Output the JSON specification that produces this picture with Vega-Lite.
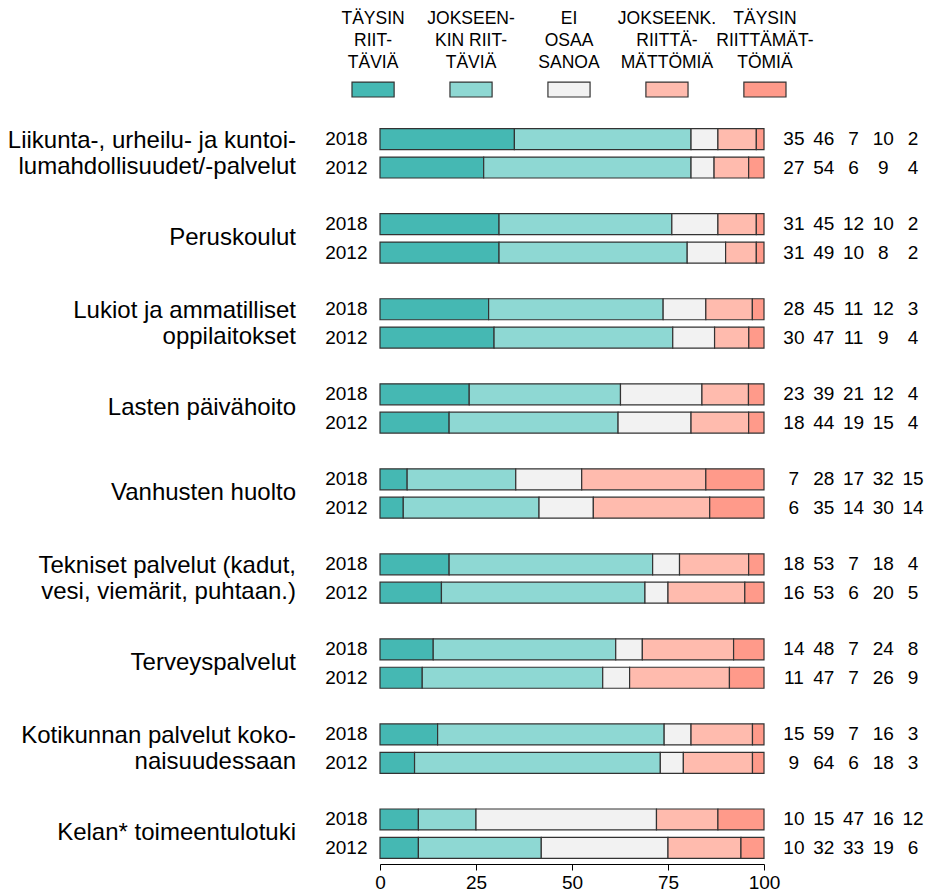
{
  "$schema": "https://vega.github.io/schema/vega-lite/v6.json",
  "padding": {"left": 0, "top": 10, "right": 0, "bottom": 4},
  "background": "white",
  "config": {
    "view": {"stroke": null},
    "font": "Liberation Sans",
    "text": {"font": "Liberation Sans", "color": "black"},
    "axis": {"labelFont": "Liberation Sans", "labelColor": "black"}
  },
  "datasets": {
    "legend": [
      {"cat": "c1", "label": ["TÄYSIN", "RIIT-", "TÄVIÄ"]},
      {"cat": "c2", "label": ["JOKSEEN-", "KIN RIIT-", "TÄVIÄ"]},
      {"cat": "c3", "label": ["EI", "OSAA", "SANOA"]},
      {"cat": "c4", "label": ["JOKSEENK.", "RIITTÄ-", "MÄTTÖMIÄ"]},
      {"cat": "c5", "label": ["TÄYSIN", "RIITTÄMÄT-", "TÖMIÄ"]}
    ],
    "labels1": [
      {"row": "g2_2018", "label": "Peruskoulut"},
      {"row": "g4_2018", "label": "Lasten päivähoito"},
      {"row": "g5_2018", "label": "Vanhusten huolto"},
      {"row": "g7_2018", "label": "Terveyspalvelut"},
      {"row": "g9_2018", "label": "Kelan* toimeentulotuki"}
    ],
    "labels2": [
      {"row": "g1_2018", "label": ["Liikunta-, urheilu- ja kuntoi-", "lumahdollisuudet/-palvelut"]},
      {"row": "g3_2018", "label": ["Lukiot ja ammatilliset\u00a0", "oppilaitokset\u00a0"]},
      {"row": "g6_2018", "label": ["Tekniset palvelut (kadut,\u00a0", "vesi, viemärit, puhtaan.)\u00a0"]},
      {"row": "g8_2018", "label": ["Kotikunnan palvelut koko-", "naisuudessaan"]}
    ],
    "vals": [
      {"row": "g1_2018", "cat": "c1", "pct": 35}, {"row": "g1_2018", "cat": "c2", "pct": 46}, {"row": "g1_2018", "cat": "c3", "pct": 7}, {"row": "g1_2018", "cat": "c4", "pct": 10}, {"row": "g1_2018", "cat": "c5", "pct": 2},
      {"row": "g1_2012", "cat": "c1", "pct": 27}, {"row": "g1_2012", "cat": "c2", "pct": 54}, {"row": "g1_2012", "cat": "c3", "pct": 6}, {"row": "g1_2012", "cat": "c4", "pct": 9}, {"row": "g1_2012", "cat": "c5", "pct": 4},
      {"row": "g2_2018", "cat": "c1", "pct": 31}, {"row": "g2_2018", "cat": "c2", "pct": 45}, {"row": "g2_2018", "cat": "c3", "pct": 12}, {"row": "g2_2018", "cat": "c4", "pct": 10}, {"row": "g2_2018", "cat": "c5", "pct": 2},
      {"row": "g2_2012", "cat": "c1", "pct": 31}, {"row": "g2_2012", "cat": "c2", "pct": 49}, {"row": "g2_2012", "cat": "c3", "pct": 10}, {"row": "g2_2012", "cat": "c4", "pct": 8}, {"row": "g2_2012", "cat": "c5", "pct": 2},
      {"row": "g3_2018", "cat": "c1", "pct": 28}, {"row": "g3_2018", "cat": "c2", "pct": 45}, {"row": "g3_2018", "cat": "c3", "pct": 11}, {"row": "g3_2018", "cat": "c4", "pct": 12}, {"row": "g3_2018", "cat": "c5", "pct": 3},
      {"row": "g3_2012", "cat": "c1", "pct": 30}, {"row": "g3_2012", "cat": "c2", "pct": 47}, {"row": "g3_2012", "cat": "c3", "pct": 11}, {"row": "g3_2012", "cat": "c4", "pct": 9}, {"row": "g3_2012", "cat": "c5", "pct": 4},
      {"row": "g4_2018", "cat": "c1", "pct": 23}, {"row": "g4_2018", "cat": "c2", "pct": 39}, {"row": "g4_2018", "cat": "c3", "pct": 21}, {"row": "g4_2018", "cat": "c4", "pct": 12}, {"row": "g4_2018", "cat": "c5", "pct": 4},
      {"row": "g4_2012", "cat": "c1", "pct": 18}, {"row": "g4_2012", "cat": "c2", "pct": 44}, {"row": "g4_2012", "cat": "c3", "pct": 19}, {"row": "g4_2012", "cat": "c4", "pct": 15}, {"row": "g4_2012", "cat": "c5", "pct": 4},
      {"row": "g5_2018", "cat": "c1", "pct": 7}, {"row": "g5_2018", "cat": "c2", "pct": 28}, {"row": "g5_2018", "cat": "c3", "pct": 17}, {"row": "g5_2018", "cat": "c4", "pct": 32}, {"row": "g5_2018", "cat": "c5", "pct": 15},
      {"row": "g5_2012", "cat": "c1", "pct": 6}, {"row": "g5_2012", "cat": "c2", "pct": 35}, {"row": "g5_2012", "cat": "c3", "pct": 14}, {"row": "g5_2012", "cat": "c4", "pct": 30}, {"row": "g5_2012", "cat": "c5", "pct": 14},
      {"row": "g6_2018", "cat": "c1", "pct": 18}, {"row": "g6_2018", "cat": "c2", "pct": 53}, {"row": "g6_2018", "cat": "c3", "pct": 7}, {"row": "g6_2018", "cat": "c4", "pct": 18}, {"row": "g6_2018", "cat": "c5", "pct": 4},
      {"row": "g6_2012", "cat": "c1", "pct": 16}, {"row": "g6_2012", "cat": "c2", "pct": 53}, {"row": "g6_2012", "cat": "c3", "pct": 6}, {"row": "g6_2012", "cat": "c4", "pct": 20}, {"row": "g6_2012", "cat": "c5", "pct": 5},
      {"row": "g7_2018", "cat": "c1", "pct": 14}, {"row": "g7_2018", "cat": "c2", "pct": 48}, {"row": "g7_2018", "cat": "c3", "pct": 7}, {"row": "g7_2018", "cat": "c4", "pct": 24}, {"row": "g7_2018", "cat": "c5", "pct": 8},
      {"row": "g7_2012", "cat": "c1", "pct": 11}, {"row": "g7_2012", "cat": "c2", "pct": 47}, {"row": "g7_2012", "cat": "c3", "pct": 7}, {"row": "g7_2012", "cat": "c4", "pct": 26}, {"row": "g7_2012", "cat": "c5", "pct": 9},
      {"row": "g8_2018", "cat": "c1", "pct": 15}, {"row": "g8_2018", "cat": "c2", "pct": 59}, {"row": "g8_2018", "cat": "c3", "pct": 7}, {"row": "g8_2018", "cat": "c4", "pct": 16}, {"row": "g8_2018", "cat": "c5", "pct": 3},
      {"row": "g8_2012", "cat": "c1", "pct": 9}, {"row": "g8_2012", "cat": "c2", "pct": 64}, {"row": "g8_2012", "cat": "c3", "pct": 6}, {"row": "g8_2012", "cat": "c4", "pct": 18}, {"row": "g8_2012", "cat": "c5", "pct": 3},
      {"row": "g9_2018", "cat": "c1", "pct": 10}, {"row": "g9_2018", "cat": "c2", "pct": 15}, {"row": "g9_2018", "cat": "c3", "pct": 47}, {"row": "g9_2018", "cat": "c4", "pct": 16}, {"row": "g9_2018", "cat": "c5", "pct": 12},
      {"row": "g9_2012", "cat": "c1", "pct": 10}, {"row": "g9_2012", "cat": "c2", "pct": 32}, {"row": "g9_2012", "cat": "c3", "pct": 33}, {"row": "g9_2012", "cat": "c4", "pct": 19}, {"row": "g9_2012", "cat": "c5", "pct": 6}
    ]
  },
  "spacing": 27,
  "vconcat": [
    {
      "bounds": "flush",
      "spacing": 0,
      "hconcat": [
        {"width": 352, "height": 85, "data": {"values": []}, "mark": "text", "encoding": {}},
        {
          "width": 434,
          "height": 85,
          "data": {"name": "legend"},
          "layer": [
            {
              "mark": {"type": "rect", "stroke": "#333333", "strokeWidth": 1.2},
              "encoding": {
                "x": {"field": "cat", "type": "nominal", "scale": {"paddingInner": 0.57, "paddingOuter": 0}, "axis": null},
                "y": {"datum": "box", "type": "nominal", "scale": {"domain": ["label", "box"], "paddingInner": 0.787, "paddingOuter": 0}, "axis": null},
                "color": {"field": "cat", "type": "nominal", "scale": {"domain": ["c1", "c2", "c3", "c4", "c5"], "range": ["#45B8B3", "#8ED8D3", "#F2F2F2", "#FFBBAE", "#FF9A8A"]}, "legend": null}
              }
            },
            {
              "mark": {"type": "text", "fontSize": 17.5, "lineHeight": 22, "baseline": "middle", "align": "center"},
              "encoding": {
                "x": {"field": "cat", "type": "nominal", "axis": null},
                "y": {"datum": "label", "type": "nominal", "axis": null},
                "text": {"field": "label", "type": "nominal"}
              }
            }
          ]
        }
      ]
    },
    {
      "bounds": "flush",
      "spacing": 84,
      "hconcat": [
        {
          "width": 296,
          "height": 737,
          "layer": [
            {
              "data": {"name": "labels1"},
              "mark": {"type": "text", "fontSize": 24, "align": "right", "baseline": "middle", "dy": 14},
              "encoding": {
                "y": {"field": "row", "type": "nominal", "scale": {"domain": ["g1_2018", "g1_2012", "s1", "g2_2018", "g2_2012", "s2", "g3_2018", "g3_2012", "s3", "g4_2018", "g4_2012", "s4", "g5_2018", "g5_2012", "s5", "g6_2018", "g6_2012", "s6", "g7_2018", "g7_2012", "s7", "g8_2018", "g8_2012", "s8", "g9_2018", "g9_2012"], "paddingInner": 0.26, "paddingOuter": 0.13}, "axis": null},
                "x": {"value": "width"},
                "text": {"field": "label", "type": "nominal"}
              }
            },
            {
              "data": {"name": "labels2"},
              "mark": {"type": "text", "fontSize": 24, "lineHeight": 26, "align": "right", "baseline": "middle", "dy": 1.5},
              "encoding": {
                "y": {"field": "row", "type": "nominal", "axis": null},
                "x": {"value": "width"},
                "text": {"field": "label", "type": "nominal"}
              }
            }
          ]
        },
        {
          "bounds": "flush",
          "spacing": 15,
          "hconcat": [
            {
              "width": 384,
              "height": 737,
              "data": {"name": "vals"},
              "mark": {"type": "bar", "stroke": "#333333", "strokeWidth": 1.2},
              "encoding": {
                "y": {"field": "row", "type": "nominal", "scale": {"domain": ["g1_2018", "g1_2012", "s1", "g2_2018", "g2_2012", "s2", "g3_2018", "g3_2012", "s3", "g4_2018", "g4_2012", "s4", "g5_2018", "g5_2012", "s5", "g6_2018", "g6_2012", "s6", "g7_2018", "g7_2012", "s7", "g8_2018", "g8_2012", "s8", "g9_2018", "g9_2012"], "paddingInner": 0.26, "paddingOuter": 0.13},
                  "axis": {"title": null, "domain": false, "ticks": false, "labelFontSize": 19, "labelPadding": 13, "labelExpr": "indexof(datum.value, '_') > 0 ? slice(datum.value, 3) : ''"}},
                "x": {"field": "pct", "type": "quantitative", "stack": "normalize", "scale": {"domain": [0, 1]},
                  "axis": {"title": null, "values": [0, 0.25, 0.5, 0.75, 1], "labelExpr": "format(datum.value * 100, 'd')", "grid": false, "domainColor": "black", "tickColor": "black", "tickSize": 6, "labelFontSize": 19, "offset": 2, "labelPadding": 3, "labelFlush": false}},
                "color": {"field": "cat", "type": "nominal", "scale": {"domain": ["c1", "c2", "c3", "c4", "c5"], "range": ["#45B8B3", "#8ED8D3", "#F2F2F2", "#FFBBAE", "#FF9A8A"]}, "legend": null},
                "order": {"field": "cat", "sort": "ascending"}
              }
            },
            {
              "width": 149,
              "height": 737,
              "data": {"name": "vals"},
              "mark": {"type": "text", "fontSize": 19, "baseline": "middle", "align": "center"},
              "encoding": {
                "y": {"field": "row", "type": "nominal", "scale": {"domain": ["g1_2018", "g1_2012", "s1", "g2_2018", "g2_2012", "s2", "g3_2018", "g3_2012", "s3", "g4_2018", "g4_2012", "s4", "g5_2018", "g5_2012", "s5", "g6_2018", "g6_2012", "s6", "g7_2018", "g7_2012", "s7", "g8_2018", "g8_2012", "s8", "g9_2018", "g9_2012"], "paddingInner": 0.26, "paddingOuter": 0.13}, "axis": null},
                "x": {"field": "cat", "type": "nominal", "scale": {"paddingInner": 0, "paddingOuter": 0}, "axis": null},
                "text": {"field": "pct", "type": "quantitative"}
              }
            }
          ]
        }
      ]
    }
  ]
}
